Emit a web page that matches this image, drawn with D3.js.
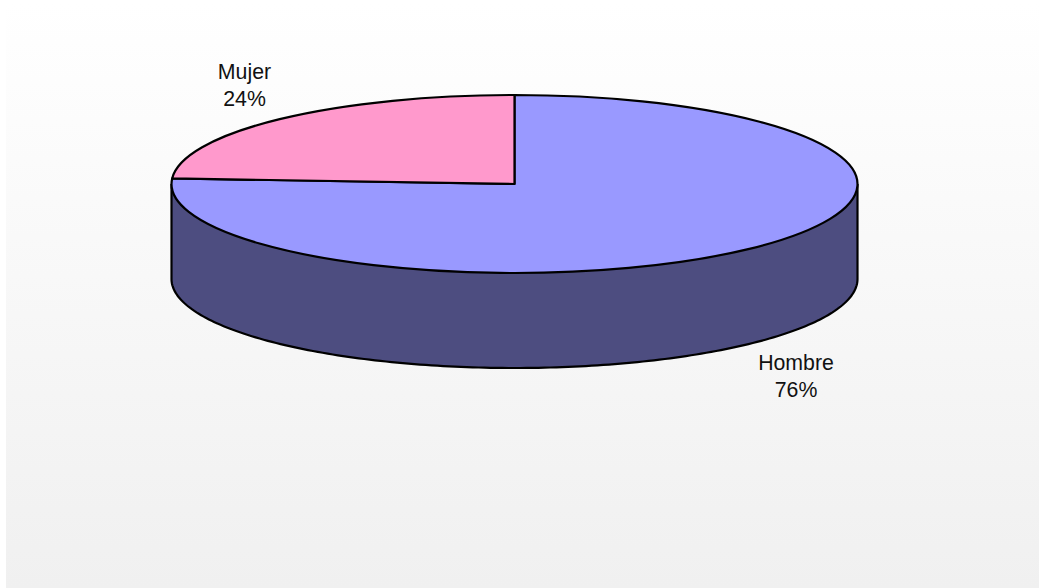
<!DOCTYPE html>
<html>
<head>
<meta charset="utf-8">
<style>html,body{margin:0;padding:0;background:#fff}svg{display:block}</style>
<script src="https://cdn.jsdelivr.net/npm/d3@7"></script>
</head>
<body>
<script>
const categories = ["Hombre", "Mujer"];
const values = [76, 24];
const percentLabels = ["76%", "24%"];
const topColors = ["#9999ff", "#ff99cc"];
const sideColor = "#4d4d80";

const W = 1039, H = 588;
const svg = d3.select("body").append("svg").attr("width", W).attr("height", H);
const defs = svg.append("defs");
const g = defs.append("linearGradient").attr("id", "bg").attr("x1", 0).attr("y1", 0).attr("x2", 0).attr("y2", 1);
g.append("stop").attr("offset", 0).attr("stop-color", "#ffffff");
g.append("stop").attr("offset", 1).attr("stop-color", "#f0f0f0");
svg.append("rect").attr("width", W).attr("height", H).attr("fill", "#fff");
svg.append("rect").attr("x", 6).attr("y", 3).attr("width", W - 6).attr("height", H - 3).attr("fill", "url(#bg)");

const cx = 514.5, cy = 184, rx = 343, ry = 89, depth = 95;
const arcs = d3.pie().sort(null).value(d => d)(values);

// side wall: front half of the ellipse
const theta = d3.scaleLinear().domain([0, 180]).range([Math.PI / 2, 3 * Math.PI / 2]);
const side = d3.area()
  .x(a => cx + rx * Math.sin(a))
  .y0(a => cy - ry * Math.cos(a))
  .y1(a => cy - ry * Math.cos(a) + depth);
const sideAngles = d3.range(0, 180.5, 1).map(theta);
svg.append("path").attr("d", side(sideAngles))
  .attr("fill", sideColor).attr("stroke", "none");
svg.append("path").attr("d", side.lineY1()(sideAngles))
  .attr("fill", "none").attr("stroke", "#000").attr("stroke-width", 2.2);
[sideAngles[0], sideAngles[sideAngles.length - 1]].forEach(a => {
  svg.append("line")
    .attr("x1", cx + rx * Math.sin(a)).attr("x2", cx + rx * Math.sin(a))
    .attr("y1", cy - ry * Math.cos(a)).attr("y2", cy - ry * Math.cos(a) + depth)
    .attr("stroke", "#000").attr("stroke-width", 2.2);
});

// top face: d3.arc on a unit circle squashed to an ellipse
const arc = d3.arc().innerRadius(0).outerRadius(100);
svg.append("g")
  .attr("transform", `translate(${cx},${cy}) scale(${rx / 100},${ry / 100})`)
  .selectAll("path").data(arcs).join("path")
  .attr("d", arc)
  .attr("fill", (d, i) => topColors[i])
  .attr("stroke", "#000").attr("stroke-width", 2.2)
  .attr("stroke-linejoin", "round")
  .attr("vector-effect", "non-scaling-stroke");

// labels
const labelPos = [[796, 370], [244.5, 79]];
const labels = svg.append("g")
  .attr("font-family", "Liberation Sans, Arial, sans-serif")
  .attr("font-size", 21.3).attr("fill", "#111").attr("text-anchor", "middle");
categories.forEach((c, i) => {
  labels.append("text").attr("x", labelPos[i][0]).attr("y", labelPos[i][1]).text(c);
  labels.append("text").attr("x", labelPos[i][0]).attr("y", labelPos[i][1] + 27).text(percentLabels[i]);
});
</script>
</body>
</html>
